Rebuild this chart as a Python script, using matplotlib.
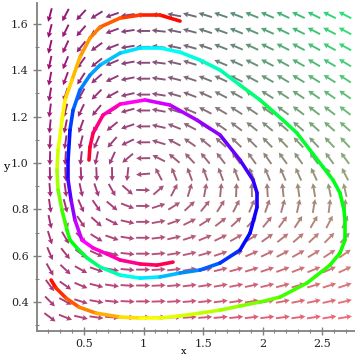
"""Predator-prey direction field with two rainbow-coloured trajectories."""

import matplotlib

matplotlib.use("Agg")

import matplotlib.pyplot as plt  # noqa: E402
import numpy as np  # noqa: E402
from matplotlib.collections import LineCollection  # noqa: E402
from matplotlib.colors import hsv_to_rgb  # noqa: E402
from matplotlib.ticker import MultipleLocator  # noqa: E402


# model behind the direction field: x' = x (1 - y - x / K), y' = C y (x - 1)
CARRYING_K = 16.0
PREDATOR_C = 0.4

FIELD_X = (0.214, 2.693)
FIELD_Y = (0.335, 1.638)
FIELD_POINTS = 20

# trajectory starting at the top (red) and winding inwards
ORBIT_A_X = [1.307, 1.139, 0.971, 0.803, 0.634, 0.550, 0.466, 0.399, 0.340, 0.315,
             0.282, 0.273, 0.282, 0.315, 0.357, 0.382, 0.441, 0.525, 0.634, 0.803,
             0.971, 1.139, 1.307, 1.475, 1.643, 1.811, 1.895, 1.954, 1.954, 1.920,
             1.811, 1.643, 1.450, 1.223, 1.013, 0.803, 0.660, 0.576, 0.550, 0.542]
ORBIT_A_Y = [1.612, 1.638, 1.638, 1.625, 1.586, 1.539, 1.457, 1.358, 1.272, 1.185,
             1.056, 0.970, 0.884, 0.797, 0.711, 0.668, 0.634, 0.591, 0.552, 0.517,
             0.504, 0.509, 0.526, 0.539, 0.569, 0.625, 0.698, 0.810, 0.871, 0.927,
             1.013, 1.121, 1.185, 1.250, 1.272, 1.254, 1.207, 1.129, 1.069, 1.013]
ORBIT_A_HUE = [0.00, 0.01, 0.03, 0.05, 0.07, 0.09, 0.11, 0.13, 0.15, 0.17,
               0.19, 0.21, 0.24, 0.28, 0.31, 0.33, 0.35, 0.38, 0.42, 0.47,
               0.50, 0.53, 0.56, 0.59, 0.62, 0.65, 0.67, 0.68, 0.69, 0.70,
               0.72, 0.75, 0.77, 0.79, 0.82, 0.85, 0.90, 0.93, 0.96, 0.98]

# trajectory starting at the bottom left (red), the outer loop
ORBIT_B_X = [0.223, 0.265, 0.349, 0.458, 0.601, 0.803, 0.971, 1.139, 1.307, 1.475,
             1.643, 1.811, 1.979, 2.147, 2.374, 2.567, 2.651, 2.693, 2.693, 2.685,
             2.651, 2.592, 2.508, 2.399, 2.290, 2.172, 1.979, 1.811, 1.643, 1.475,
             1.307, 1.139, 0.971, 0.803, 0.634, 0.550, 0.466, 0.408, 0.382, 0.366,
             0.366, 0.391, 0.424, 0.483, 0.576, 0.693, 0.803, 0.971, 1.113, 1.248]
ORBIT_B_Y = [0.496, 0.461, 0.418, 0.379, 0.353, 0.336, 0.332, 0.332, 0.341, 0.353,
             0.366, 0.384, 0.401, 0.422, 0.483, 0.560, 0.612, 0.668, 0.754, 0.797,
             0.871, 0.927, 0.983, 1.056, 1.129, 1.185, 1.272, 1.336, 1.401, 1.444,
             1.478, 1.496, 1.496, 1.474, 1.422, 1.379, 1.315, 1.228, 1.142, 1.013,
             0.927, 0.841, 0.754, 0.668, 0.634, 0.608, 0.582, 0.565, 0.560, 0.573]
ORBIT_B_HUE = [0.00, 0.02, 0.04, 0.07, 0.10, 0.13, 0.16, 0.18, 0.19, 0.20,
               0.22, 0.24, 0.26, 0.28, 0.30, 0.31, 0.32, 0.33, 0.335, 0.34,
               0.345, 0.35, 0.355, 0.36, 0.365, 0.37, 0.39, 0.43, 0.45, 0.47,
               0.49, 0.50, 0.51, 0.53, 0.55, 0.57, 0.59, 0.61, 0.64, 0.67,
               0.70, 0.74, 0.78, 0.82, 0.85, 0.87, 0.89, 0.92, 0.94, 0.96]


def field(x, y):
    u = x * (1.0 - y - x / CARRYING_K)
    v = PREDATOR_C * y * (x - 1.0)
    return u, v


def draw_field(ax):
    xs = np.linspace(*FIELD_X, FIELD_POINTS)
    ys = np.linspace(*FIELD_Y, FIELD_POINTS)
    gx, gy = np.meshgrid(xs, ys)
    u, v = field(gx, gy)
    norm = np.hypot(u, v)
    norm[norm == 0] = 1.0

    red = np.clip(0.64 + 0.22 * u, 0, 1)
    green = np.clip(0.3 + 0.52 * v, 0, 1)
    blue = np.full_like(red, 0.47)
    colors = np.stack([red, green, blue], axis=-1).reshape(-1, 3)

    ax.quiver(gx, gy, u / norm, v / norm, color=colors, pivot="middle",
              units="dots", width=1.9, scale_units="dots", scale=1 / 14.0,
              headwidth=3.0, headlength=2.8, headaxislength=2.5, zorder=1)


def draw_orbit(ax, xs, ys, hues):
    pts = np.column_stack([xs, ys])
    segments = np.stack([pts[:-1], pts[1:]], axis=1)
    hue = np.asarray(hues)
    mid = (hue[:-1] + hue[1:]) / 2
    hsv = np.column_stack([mid, np.ones_like(mid), np.ones_like(mid)])
    lc = LineCollection(segments, colors=hsv_to_rgb(hsv), linewidths=2.6,
                        capstyle="round", joinstyle="round", zorder=3)
    ax.add_collection(lc)


def main():
    plt.rcParams["font.family"] = ["DejaVu Serif"]
    fig = plt.figure(figsize=(3.55, 3.55), dpi=100)
    ax = fig.add_axes([37 / 355, 24 / 355, 318 / 355, 328 / 355])

    draw_field(ax)
    draw_orbit(ax, ORBIT_A_X, ORBIT_A_Y, ORBIT_A_HUE)
    draw_orbit(ax, ORBIT_B_X, ORBIT_B_Y, ORBIT_B_HUE)

    ax.set_xlim(0.105, 2.777)
    ax.set_ylim(0.276, 1.69)

    for side in ("top", "right"):
        ax.spines[side].set_visible(False)
    for side in ("left", "bottom"):
        ax.spines[side].set_color("#808080")
        ax.spines[side].set_linewidth(1.3)

    ax.xaxis.set_major_locator(MultipleLocator(0.5))
    ax.xaxis.set_minor_locator(MultipleLocator(0.1))
    ax.yaxis.set_major_locator(MultipleLocator(0.2))
    ax.yaxis.set_minor_locator(MultipleLocator(0.1))
    ax.xaxis.set_major_formatter(lambda val, pos: f"{val:g}")
    ax.tick_params(which="major", direction="inout", length=6, width=1,
                   color="#808080", labelsize=8, pad=3, labelcolor="#222222")
    ax.tick_params(which="minor", direction="inout", length=3, width=0.8,
                   color="#808080")

    fig.text(6 / 355, 1 - 167 / 355, "y", ha="center", va="center", fontsize=8)
    # the reference squeezes this label against the bottom edge, next to "1.5"
    fig.text(184 / 355, 1.5 / 355, "x", ha="center", va="baseline", fontsize=7)

    fig.savefig("out.png", dpi=100)
    plt.close(fig)


if __name__ == "__main__":
    main()
